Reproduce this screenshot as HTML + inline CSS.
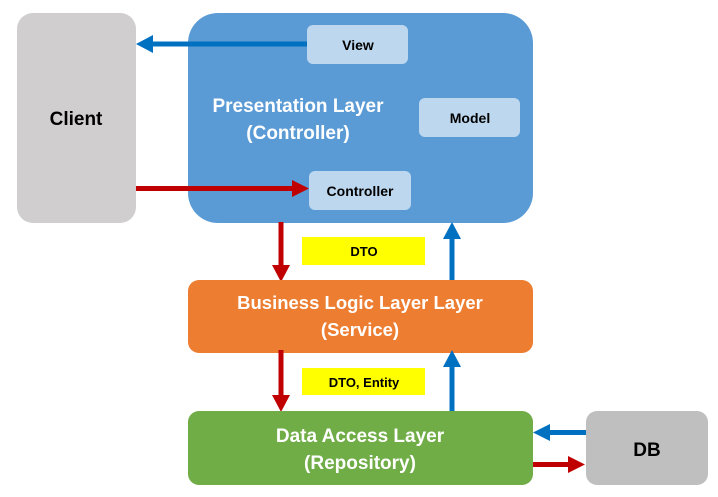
<!DOCTYPE html>
<html><head><meta charset="utf-8"><style>
html,body{margin:0;padding:0;background:#fff;}
svg{display:block;}
text{font-family:"Liberation Sans",sans-serif;font-weight:bold;}
</style></head><body>
<svg width="718" height="497" viewBox="0 0 718 497" xmlns="http://www.w3.org/2000/svg">
<rect x="17" y="13" width="119" height="210" rx="16" fill="#d0cece"/>
<text x="76" y="125" font-size="19" text-anchor="middle" fill="#000">Client</text>
<rect x="188" y="13" width="345" height="210" rx="30" fill="#5b9bd5"/>
<text x="298" y="112" font-size="19" text-anchor="middle" fill="#fff">Presentation Layer</text>
<text x="298" y="139" font-size="19" text-anchor="middle" fill="#fff">(Controller)</text>
<rect x="307" y="25" width="101" height="39" rx="6" fill="#bdd7ee"/>
<text x="358" y="50" font-size="14" text-anchor="middle" fill="#000">View</text>
<rect x="419" y="98" width="101" height="39" rx="6" fill="#bdd7ee"/>
<text x="470" y="123" font-size="14" text-anchor="middle" fill="#000">Model</text>
<rect x="309" y="171" width="102" height="39" rx="6" fill="#bdd7ee"/>
<text x="360" y="196" font-size="14" text-anchor="middle" fill="#000">Controller</text>
<rect x="152" y="41.5" width="155" height="5" fill="#0070c0"/>
<polygon points="136,44 153,35 153,53" fill="#0070c0"/>
<rect x="136" y="186" width="158" height="5" fill="#c00000"/>
<polygon points="309,188.5 292,180 292,197" fill="#c00000"/>
<rect x="278.5" y="222" width="5" height="45" fill="#c00000"/>
<polygon points="281,282 272,265 290,265" fill="#c00000"/>
<rect x="449.5" y="238" width="5" height="43" fill="#0070c0"/>
<polygon points="452,222 443,239 461,239" fill="#0070c0"/>
<rect x="302" y="237" width="123" height="28" fill="#ffff00"/>
<text x="364" y="256" font-size="13" text-anchor="middle" fill="#000">DTO</text>
<rect x="188" y="280" width="345" height="73" rx="11" fill="#ed7d31"/>
<text x="360" y="309" font-size="18.5" text-anchor="middle" fill="#fff">Business Logic Layer Layer</text>
<text x="360" y="336" font-size="18.5" text-anchor="middle" fill="#fff">(Service)</text>
<rect x="278.5" y="350" width="5" height="47" fill="#c00000"/>
<polygon points="281,412 272,395 290,395" fill="#c00000"/>
<rect x="449.5" y="366" width="5" height="46" fill="#0070c0"/>
<polygon points="452,350 443,367 461,367" fill="#0070c0"/>
<rect x="302" y="368" width="123" height="27" fill="#ffff00"/>
<text x="364" y="387" font-size="13" text-anchor="middle" fill="#000">DTO, Entity</text>
<rect x="188" y="411" width="345" height="74" rx="11" fill="#70ad47"/>
<text x="360" y="442" font-size="19" text-anchor="middle" fill="#fff">Data Access Layer</text>
<text x="360" y="469" font-size="19" text-anchor="middle" fill="#fff">(Repository)</text>
<rect x="586" y="411" width="122" height="74" rx="11" fill="#bfbfbf"/>
<text x="647" y="456" font-size="19" text-anchor="middle" fill="#000">DB</text>
<rect x="549" y="430" width="37" height="5" fill="#0070c0"/>
<polygon points="533,432.5 550,424 550,441" fill="#0070c0"/>
<rect x="533" y="462" width="37" height="5" fill="#c00000"/>
<polygon points="585,464.5 568,456 568,473" fill="#c00000"/>
</svg>
</body></html>
